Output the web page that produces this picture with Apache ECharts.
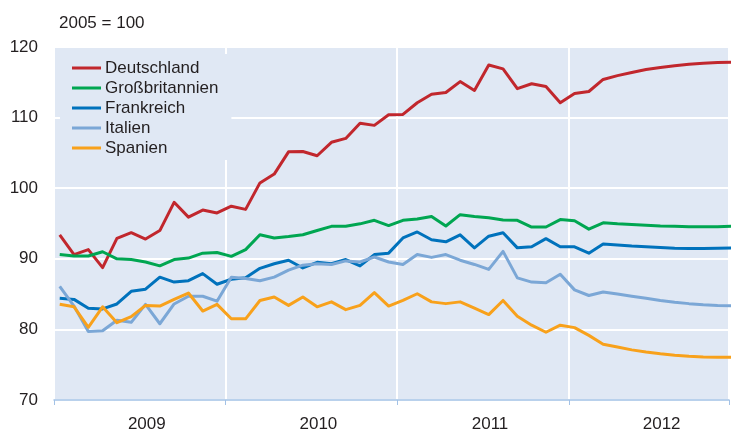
<!DOCTYPE html>
<html>
<head>
<meta charset="utf-8">
<script src="https://cdn.jsdelivr.net/npm/echarts@6/dist/echarts.min.js"></script>
<style>
  html, body { margin: 0; padding: 0; background: #fff; }
  #indexChart { width: 732px; height: 434px; }
</style>
</head>
<body>
<div id="indexChart"></div>
<script>
// monthly index values, Jan 2009 .. Dec 2012 (2012 partly forecast)
var years = ["2009", "2010", "2011", "2012"];
var names = ["Deutschland", "Großbritannien", "Frankreich", "Italien", "Spanien"];
var colors = ["#c1272d", "#00a651", "#0072bc", "#7ba7d6", "#f8a11b"];

var deutschland = [
  93.4, 90.6, 91.3, 88.75, 92.9, 93.7, 92.8, 94.0, 98.0, 95.9, 96.9, 96.5,
  97.45, 97.0, 100.75, 102.0, 105.15, 105.2, 104.6, 106.5, 107.05, 109.2, 108.9, 110.4,
  110.45, 112.1, 113.3, 113.55, 115.1, 113.85, 117.45, 116.9, 114.1, 114.8, 114.4, 112.1,
  113.4, 113.7, 115.4, 115.95, 116.4, 116.8, 117.1, 117.35, 117.55, 117.7, 117.8, 117.85
];
var grossbritannien = [
  90.6, 90.4, 90.4, 91.0, 90.0, 89.9, 89.55, 89.0, 89.9, 90.1, 90.8, 90.9,
  90.35, 91.3, 93.4, 92.95, 93.15, 93.4, 94.0, 94.6, 94.6, 94.95, 95.45, 94.7,
  95.45, 95.65, 96.0, 94.65, 96.25, 96.0, 95.8, 95.5, 95.45, 94.5, 94.5, 95.55,
  95.4, 94.2, 95.1, 94.95, 94.85, 94.75, 94.65, 94.6, 94.55, 94.55, 94.55, 94.6
];
var frankreich = [
  84.4, 84.25, 83.0, 82.9, 83.6, 85.4, 85.7, 87.4, 86.7, 86.9, 87.9, 86.4,
  87.1, 87.3, 88.65, 89.3, 89.8, 88.7, 89.5, 89.3, 89.9, 89.0, 90.6, 90.8,
  92.95, 93.8, 92.7, 92.4, 93.4, 91.55, 93.2, 93.7, 91.55, 91.7, 92.85, 91.7,
  91.7, 90.8, 92.1, 91.95, 91.8, 91.7, 91.6, 91.5, 91.45, 91.45, 91.5, 91.55
];
var italien = [
  86.1, 83.3, 79.7, 79.8, 81.3, 81.0, 83.55, 80.8, 83.6, 84.7, 84.7, 84.0,
  87.4, 87.2, 86.9, 87.4, 88.4, 89.1, 89.3, 89.2, 89.7, 89.55, 90.25, 89.55,
  89.2, 90.6, 90.2, 90.6, 89.8, 89.2, 88.5, 91.05, 87.3, 86.7, 86.6, 87.8,
  85.6, 84.8, 85.3, 85.0, 84.7, 84.4, 84.1, 83.85, 83.65, 83.5, 83.4, 83.35
];
var spanien = [
  83.55, 83.2, 80.3, 83.2, 80.95, 81.8, 83.4, 83.3, 84.25, 85.15, 82.6, 83.55,
  81.5, 81.5, 84.1, 84.6, 83.4, 84.6, 83.2, 83.9, 82.8, 83.4, 85.2, 83.3,
  84.1, 85.05, 83.9, 83.65, 83.9, 83.0, 82.1, 84.1, 81.85, 80.6, 79.6, 80.6,
  80.25, 79.15, 77.9, 77.5, 77.1, 76.8, 76.55, 76.35, 76.2, 76.1, 76.05, 76.05
];

var allValues = [deutschland, grossbritannien, frankreich, italien, spanien];

// point sits mid-month on a month-index axis
function toPoints(values) {
  return values.map(function(v, i) {
    return [i + 0.4, v];
  });
}

var chart = echarts.init(document.getElementById("indexChart"));
var bg = "#e0e8f4";
var axisBlue = "#a3c2e6";
var textColor = "#231f20";
var font = "Liberation Sans, Arial, sans-serif";

var series = names.map(function(name, k) {
  return {
    name: name,
    type: "line",
    symbol: "none",
    smooth: false,
    xAxisIndex: 0,
    data: toPoints(allValues[k]),
    lineStyle: { color: colors[k], width: 3, join: "round" },
    itemStyle: { color: colors[k] },
    animation: false
  };
});

var option = {
  animation: false,
  textStyle: { fontFamily: font },
  title: {
    text: "2005 = 100",
    left: 54,
    top: 10,
    textStyle: { fontSize: 17, fontWeight: "normal", color: textColor, fontFamily: font }
  },
  legend: {
    orient: "vertical",
    left: 60,
    top: 54,
    padding: [4, 13, 2, 12],
    backgroundColor: bg,
    icon: "rect",
    itemWidth: 29,
    itemHeight: 3,
    itemGap: 0,
    data: names,
    textStyle: { fontSize: 17, color: textColor, lineHeight: 20, padding: [0, 0, 0, -1], fontFamily: font }
  },
  grid: {
    left: 54,
    right: 0,
    top: 47,
    bottom: 34,
    show: true,
    backgroundColor: bg,
    borderWidth: 0,
    containLabel: false
  },
  xAxis: [
    {
      type: "value",
      min: 0,
      max: 47.2,
      interval: 12,
      axisLine: { show: true, lineStyle: { color: axisBlue, width: 1.5 } },
      axisTick: { show: true, length: 5, lineStyle: { color: axisBlue, width: 1 } },
      axisLabel: { show: false },
      splitLine: { show: true, lineStyle: { color: "#ffffff", width: 2 } }
    },
    {
      type: "value",
      position: "bottom",
      min: 0,
      max: 47.2,
      interval: 6,
      axisLine: { show: false },
      axisTick: { show: false },
      splitLine: { show: false },
      axisLabel: {
        show: true,
        margin: 16,
        fontSize: 17,
        color: textColor,
        padding: [0, 0, 0, 14],
        formatter: function(v) {
          var k = (v - 6) / 12;
          if (k >= 0 && k < years.length && Math.abs(k - Math.round(k)) < 1e-6) {
            return years[Math.round(k)];
          }
          return "";
        }
      }
    }
  ],
  yAxis: {
    type: "value",
    min: 70,
    max: 120,
    interval: 10,
    axisLine: { show: false },
    axisTick: { show: false },
    axisLabel: { fontSize: 17, color: textColor, margin: 16 },
    splitLine: { show: true, lineStyle: { color: "#ffffff", width: 2 } }
  },
  series: series
};

chart.setOption(option);
</script>
</body>
</html>
